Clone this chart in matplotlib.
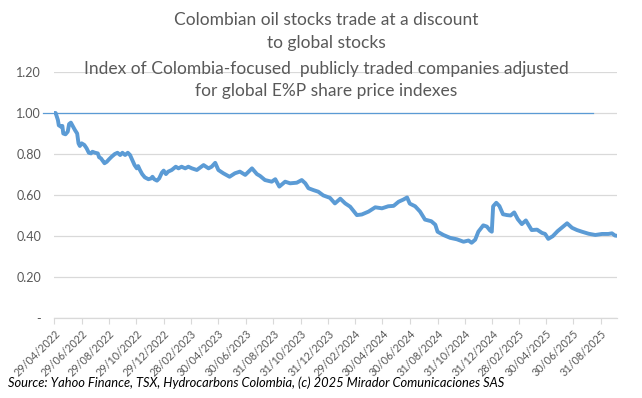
import matplotlib
matplotlib.use('Agg')
import matplotlib.pyplot as plt
import pandas as pd

# index values
dates = [
    '2022-04-29', '2022-05-02', '2022-05-07', '2022-05-09', '2022-05-14', '2022-05-17', '2022-05-19',
    '2022-05-24', '2022-05-29', '2022-06-01', '2022-06-05', '2022-06-10', '2022-06-14', '2022-06-19',
    '2022-06-22', '2022-06-25', '2022-06-29', '2022-07-05', '2022-07-10', '2022-07-15', '2022-07-20',
    '2022-07-23', '2022-07-29', '2022-08-04', '2022-08-07', '2022-08-11', '2022-08-19', '2022-08-24',
    '2022-08-29', '2022-09-04', '2022-09-11', '2022-09-17', '2022-09-23', '2022-09-28', '2022-10-04',
    '2022-10-10', '2022-10-15', '2022-10-20', '2022-10-25', '2022-10-30', '2022-11-02', '2022-11-06',
    '2022-11-11', '2022-11-17', '2022-11-25', '2022-12-01', '2022-12-04', '2022-12-08', '2022-12-14',
    '2022-12-19', '2022-12-25', '2022-12-29', '2023-01-03', '2023-01-08', '2023-01-16', '2023-01-25',
    '2023-01-31', '2023-02-07', '2023-02-15', '2023-02-22', '2023-03-02', '2023-03-13', '2023-03-28',
    '2023-04-08', '2023-04-15', '2023-04-23', '2023-04-30', '2023-05-11', '2023-05-25', '2023-06-06',
    '2023-06-17', '2023-06-29', '2023-07-14', '2023-07-25', '2023-08-01', '2023-08-12', '2023-08-27',
    '2023-09-04', '2023-09-13', '2023-09-26', '2023-10-07', '2023-10-22', '2023-11-02', '2023-11-10',
    '2023-11-17', '2023-11-28', '2023-12-09', '2023-12-20', '2024-01-04', '2024-01-15', '2024-01-27',
    '2024-02-07', '2024-02-18', '2024-03-04', '2024-03-15', '2024-03-30', '2024-04-14', '2024-04-29',
    '2024-05-13', '2024-05-25', '2024-06-05', '2024-06-16', '2024-06-24', '2024-06-30', '2024-07-12',
    '2024-07-23', '2024-08-03', '2024-08-17', '2024-08-26', '2024-08-31', '2024-09-13', '2024-09-28',
    '2024-10-13', '2024-10-28', '2024-11-08', '2024-11-15', '2024-11-23', '2024-11-30', '2024-12-11',
    '2024-12-19', '2024-12-26', '2024-12-30', '2025-01-02', '2025-01-09', '2025-01-16', '2025-01-24',
    '2025-02-02', '2025-02-10', '2025-02-18', '2025-02-26', '2025-03-07', '2025-03-16', '2025-03-22',
    '2025-03-29', '2025-04-10', '2025-04-21', '2025-04-28', '2025-05-05', '2025-05-15', '2025-05-26',
    '2025-06-04', '2025-06-16', '2025-06-27', '2025-07-08', '2025-07-19', '2025-08-03', '2025-08-18',
    '2025-09-02', '2025-09-16', '2025-09-24', '2025-10-01', '2025-10-06',
]
index_values = [
    1.00, 1.00, 0.966, 0.94, 0.933, 0.937, 0.90,
    0.896, 0.909, 0.946, 0.953, 0.933, 0.917, 0.90,
    0.852, 0.839, 0.852, 0.844, 0.828, 0.806, 0.803,
    0.811, 0.806, 0.803, 0.784, 0.779, 0.755, 0.762,
    0.774, 0.787, 0.80, 0.806, 0.795, 0.806, 0.795,
    0.806, 0.795, 0.771, 0.746, 0.730, 0.741, 0.722,
    0.702, 0.686, 0.677, 0.681, 0.689, 0.677, 0.670,
    0.681, 0.709, 0.719, 0.702, 0.714, 0.722, 0.738,
    0.730, 0.738, 0.730, 0.738, 0.730, 0.722, 0.746,
    0.730, 0.738, 0.757, 0.722, 0.706, 0.689, 0.706,
    0.714, 0.698, 0.730, 0.702, 0.693, 0.673, 0.665,
    0.677, 0.641, 0.665, 0.657, 0.660, 0.673, 0.657,
    0.633, 0.624, 0.616, 0.598, 0.586, 0.559, 0.582,
    0.559, 0.543, 0.502, 0.505, 0.519, 0.540, 0.535,
    0.545, 0.547, 0.567, 0.578, 0.588, 0.558, 0.545,
    0.519, 0.480, 0.472, 0.455, 0.421, 0.405, 0.391,
    0.384, 0.372, 0.378, 0.367, 0.382, 0.421, 0.452,
    0.446, 0.427, 0.421, 0.545, 0.562, 0.546, 0.506,
    0.502, 0.500, 0.515, 0.482, 0.458, 0.476, 0.454,
    0.429, 0.431, 0.415, 0.410, 0.386, 0.399, 0.424,
    0.440, 0.462, 0.440, 0.429, 0.421, 0.411, 0.405,
    0.410, 0.410, 0.413, 0.402, 0.401,
]

# flat reference series at 1.00
ref_dates = ['2022-04-03', '2025-08-13']
ref_values = [1.0, 1.0]

y_ticks = [0, 0.2, 0.4, 0.6, 0.8, 1.0, 1.2]
y_tick_labels = ['-', '0.20', '0.40', '0.60', '0.80', '1.00', '1.20']
x_tick_dates = ['2022-04-29', '2022-06-29', '2022-08-29', '2022-10-29', '2022-12-29',
                '2023-02-28', '2023-04-30', '2023-06-30', '2023-08-31', '2023-10-31',
                '2023-12-31', '2024-02-29', '2024-04-30', '2024-06-30', '2024-08-31',
                '2024-10-31', '2024-12-31', '2025-02-28', '2025-04-30', '2025-06-30',
                '2025-08-31']

title_lines = ['Colombian oil stocks trade at a discount', 'to global stocks']
subtitle_lines = ['Index of Colombia-focused  publicly traded companies adjusted',
                  'for global E%P share price indexes']
source = 'Source: Yahoo Finance, TSX, Hydrocarbons Colombia, (c) 2025 Mirador Comunicaciones SAS'

plt.rcParams['font.family'] = ['Lato', 'DejaVu Sans']
grey = '#595959'
blue = '#5B9BD5'

fig = plt.figure(figsize=(6.42, 3.98), dpi=100)
ax = fig.add_axes([54.3 / 642, 80 / 398, 563 / 642, 246 / 398])

df = pd.DataFrame({'date': pd.to_datetime(dates), 'value': index_values})
ref = pd.DataFrame({'date': pd.to_datetime(ref_dates), 'value': ref_values})

ax.set_ylim(0, 1.2)
ax.set_yticks(y_ticks)
ax.set_yticklabels(y_tick_labels)
ax.grid(True, axis='y', color='#D9D9D9', linewidth=0.9)
ax.set_axisbelow(True)

ax.plot(ref['date'], ref['value'], color=blue, linewidth=0.9, clip_on=False, zorder=2)
ax.plot(df['date'], df['value'], color=blue, linewidth=2.8, solid_joinstyle='round', zorder=3)

ax.set_xlim(pd.Timestamp('2022-04-29'), pd.Timestamp('2025-10-06'))
ticks = pd.to_datetime(x_tick_dates)
ax.set_xticks(ticks)
ax.set_xticklabels([t.strftime('%d/%m/%Y') for t in ticks], rotation=45, ha='right',
                   rotation_mode='anchor')

for side in ['top', 'right', 'left']:
    ax.spines[side].set_visible(False)
ax.spines['bottom'].set_color('#D9D9D9')
ax.spines['bottom'].set_linewidth(0.9)
ax.tick_params(axis='y', length=0, colors=grey, labelsize=9, pad=9.5)
ax.tick_params(axis='x', length=4, color='#D9D9D9', colors=grey, labelsize=7.8, pad=3)

for i, line in enumerate(title_lines):
    fig.text(326 / 642, 1 - (20 + 23 * i) / 398, line, ha='center', va='center',
             color=grey, fontsize=12.5)
for i, line in enumerate(subtitle_lines):
    fig.text(326 / 642, 1 - (69 + 22 * i) / 398, line, ha='center', va='center',
             color=grey, fontsize=12.5)

fig.text(8 / 642, 1 - 383 / 398, source, ha='left', va='center', style='italic',
         color='black', fontsize=9.3)

fig.savefig('out.png', dpi=100)
